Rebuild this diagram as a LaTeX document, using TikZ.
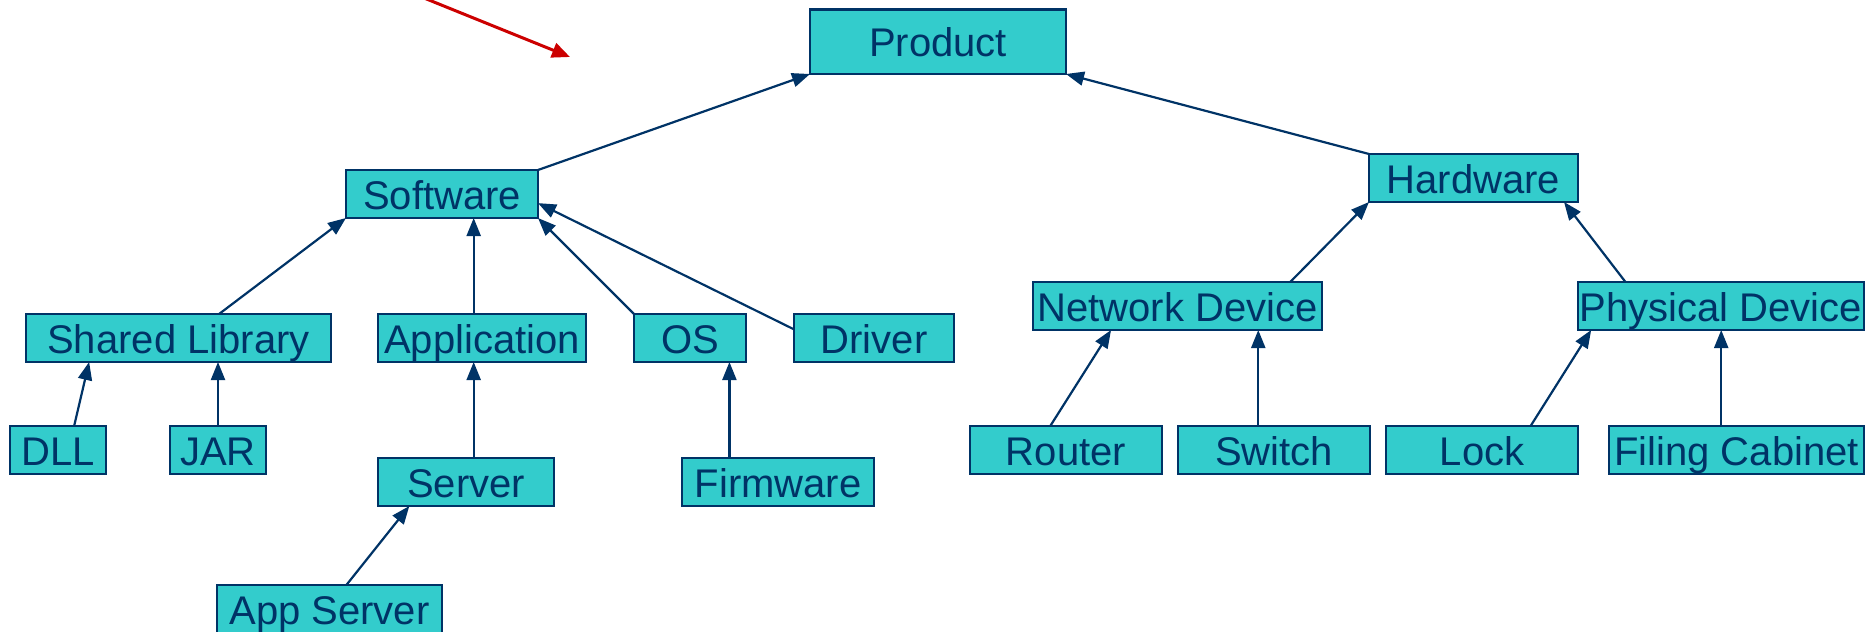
\documentclass[tikz,border=0pt]{standalone}
\usepackage{fontspec}
\setmainfont{Liberation Sans}
\usetikzlibrary{arrows.meta,calc}
\definecolor{navy}{HTML}{003366}
\definecolor{teal}{HTML}{33CCCC}
\definecolor{alertred}{HTML}{CC0000}
\tikzset{
  pbox/.style={draw=navy, fill=teal, line width=1.2pt, text=navy,
    font=\fontsize{20pt}{23pt}\selectfont, inner sep=0pt, outer sep=0pt,
    text height=15.2pt, text depth=-1pt},
  conn/.style={draw=navy, line width=1.1pt, -{Triangle[length=9pt,width=7pt]}},
  pointer/.style={draw=alertred, line width=1.5pt, -{Triangle[length=9pt,width=7.5pt]}}
}
% box given by its corners (x1,y1)-(x2,y2), in pixel units
\newcommand\mkbox[6]{%
  \node[pbox, minimum width={(#4-#2)*0.5pt}, minimum height={(#5-#3)*0.5pt}]
    (#1) at ({(#2+#4)/2},{(#3+#5)/2}) {#6};}
\begin{document}
\begin{tikzpicture}[x=0.5pt, y=-0.5pt]
\useasboundingbox (0,0) rectangle (1866,631);

% boxes
\mkbox{prod}{810}{9.5}{1066}{74}{Product}
\mkbox{sw}{346}{170}{538}{218}{Software}
\mkbox{hw}{1369}{154}{1578}{202}{Hardware}
\mkbox{shl}{26}{314}{331}{362}{Shared Library}
\mkbox{app}{378}{314}{586}{362}{Application}
\mkbox{os}{634}{314}{746}{362}{OS}
\mkbox{drv}{794}{314}{954}{362}{Driver}
\mkbox{dll}{10}{426}{106}{474}{DLL}
\mkbox{jar}{170}{426}{266}{474}{JAR}
\mkbox{srv}{378}{458}{554}{506}{Server}
\mkbox{fw}{682}{458}{874}{506}{Firmware}
\mkbox{aps}{217}{585}{442}{633}{App Server}
\mkbox{nd}{1033}{282}{1322}{330}{Network Device}
\mkbox{pd}{1578}{282}{1864}{330}{Physical Device}
\mkbox{rt}{970}{426}{1162}{474}{Router}
\mkbox{swi}{1178}{426}{1370}{474}{Switch}
\mkbox{lk}{1386}{426}{1578}{474}{Lock}
\mkbox{fc}{1609}{426}{1864}{474}{Filing Cabinet}

% attachment points on box edges
\coordinate (shlTop) at ($(shl.north west)!0.633!(shl.north east)$);
\coordinate (appTop) at ($(app.north west)!0.46!(app.north east)$);
\coordinate (dllTop) at ($(dll.north west)!0.668!(dll.north east)$);
\coordinate (shlBotL) at ($(shl.south west)!0.207!(shl.south east)$);
\coordinate (fwTop) at ($(fw.north west)!0.247!(fw.north east)$);
\coordinate (apsTop) at ($(aps.north west)!0.575!(aps.north east)$);
\coordinate (srvBot) at ($(srv.south west)!0.178!(srv.south east)$);
\coordinate (drvLeft) at ($(drv.north west)!0.32!(drv.south west)$);
\coordinate (swRight) at ($(sw.north east)!0.69!(sw.south east)$);
\coordinate (ndTop) at ($(nd.north west)!0.89!(nd.north east)$);
\coordinate (pdTop) at ($(pd.north west)!0.166!(pd.north east)$);
\coordinate (hwBotR) at ($(hw.south west)!0.933!(hw.south east)$);
\coordinate (rtTop) at ($(rt.north west)!0.418!(rt.north east)$);
\coordinate (ndBotL) at ($(nd.south west)!0.27!(nd.south east)$);
\coordinate (swiTop) at ($(swi.north west)!0.418!(swi.north east)$);
\coordinate (lkTop) at ($(lk.north west)!0.753!(lk.north east)$);
\coordinate (pdBotL) at ($(pd.south west)!0.046!(pd.south east)$);
\coordinate (fcTop) at ($(fc.north west)!0.44!(fc.north east)$);

% hierarchy connectors
\draw[conn] (sw.north east) -- (prod.south west);
\draw[conn] (hw.north west) -- (prod.south east);
\draw[conn] (shlTop) -- (sw.south west);
\draw[conn] (appTop) -- (appTop |- sw.south);
\draw[conn] (os.north west) -- (sw.south east);
\draw[conn] (drvLeft) -- (swRight);
\draw[conn] (dllTop) -- (shlBotL);
\draw[conn] (jar.north) -- (jar.north |- shl.south);
\draw[conn] (appTop |- srv.north) -- (appTop |- app.south);
\draw[conn] (apsTop) -- (srvBot);
\draw[conn] (fwTop) -- (fwTop |- os.south);
\draw[conn] (ndTop) -- (hw.south west);
\draw[conn] (pdTop) -- (hwBotR);
\draw[conn] (rtTop) -- (ndBotL);
\draw[conn] (swiTop) -- (swiTop |- nd.south);
\draw[conn] (lkTop) -- (pdBotL);
\draw[conn] (fcTop) -- (fcTop |- pd.south);

% red pointer
\coordinate (redStart) at (424,-2);
\coordinate (redEnd) at (570,57);
\draw[pointer] (redStart) -- (redEnd);
\end{tikzpicture}
\end{document}
